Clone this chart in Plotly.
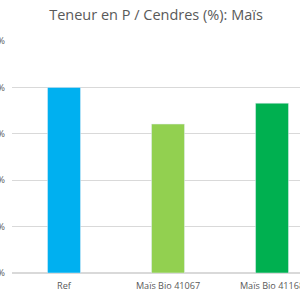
import plotly.graph_objects as go

categories = ["Ref", "Maïs Bio 41067", "Maïs Bio 41168"]
values = [0.0040, 0.00321, 0.00366]
colors = ["#00B0F0", "#92D050", "#00B050"]
y_ticks = [0, 0.001, 0.002, 0.003, 0.004, 0.005]

fig = go.Figure(go.Bar(x=categories, y=values, marker_color=colors, width=0.317))

fig.update_layout(
    width=300, height=300,
    margin=dict(l=12, r=0, t=41, b=27, autoexpand=False),
    paper_bgcolor="white", plot_bgcolor="white",
    font=dict(family="Open Sans, Liberation Sans, sans-serif", color="#595959", size=9),
    title=dict(text="Teneur en P / Cendres (%): Maïs", x=0.5, xref="paper", xanchor="center",
               y=0.95, yanchor="middle", font=dict(size=14.5, color="#595959")),
    showlegend=False,
    separators=", ",
)
fig.update_xaxes(range=[-0.5, 2.269], showgrid=False, showline=False, ticks="",
                 automargin=False, tickfont=dict(size=9.1, color="#595959"),
                 ticklabelstandoff=6)
fig.update_yaxes(range=[0, 0.005], tickvals=y_ticks, tickformat=".1%", showgrid=True,
                 gridcolor="#D9D9D9", gridwidth=1, zeroline=True, zerolinecolor="#D9D9D9",
                 showline=False, ticks="", automargin=False,
                 tickfont=dict(size=9, color="#595959"), ticklabelstandoff=6)

fig.write_html("out.html")
